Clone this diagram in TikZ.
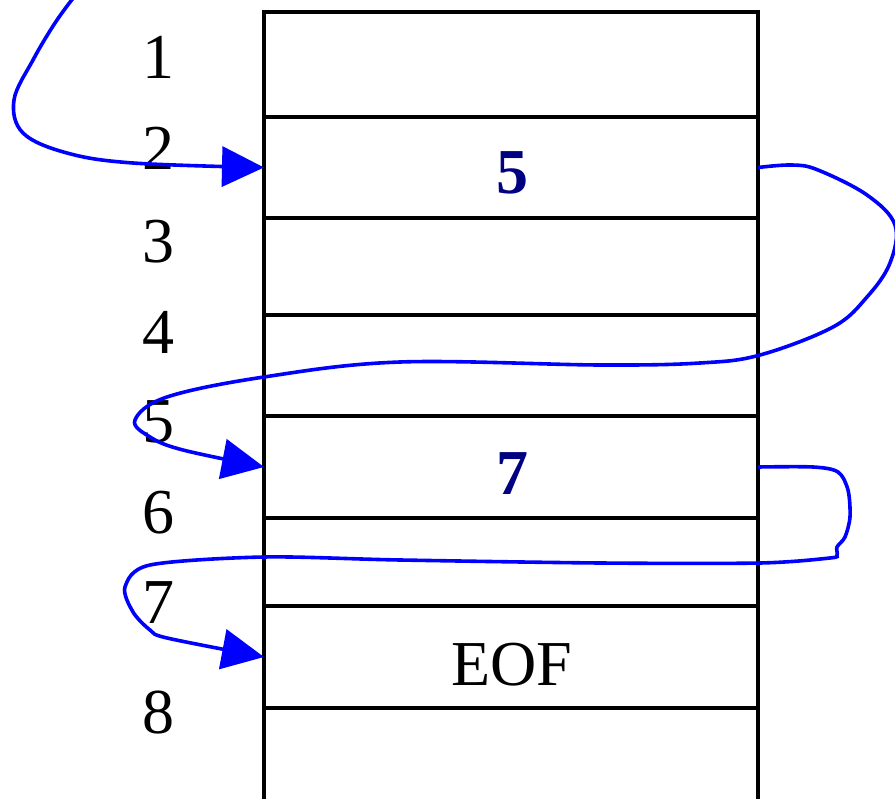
\documentclass[tikz,border=0pt]{standalone}
\usepackage{fontspec}
\setmainfont{Liberation Serif}
\usetikzlibrary{arrows.meta}
\definecolor{linkblue}{RGB}{0,0,255}
\definecolor{valnavy}{RGB}{0,0,128}
\begin{document}
\begin{tikzpicture}[x=1pt,y=-1pt,
  cell/.style={draw=black,line width=3.6pt,minimum width=494pt,inner sep=0pt,outer sep=0pt},
  idx/.style={font=\fontsize{64}{64}\selectfont,inner sep=0pt},
  val/.style={font=\fontsize{64}{64}\selectfont\bfseries,text=valnavy,inner sep=0pt},
  txt/.style={font=\fontsize{64}{64}\selectfont,inner sep=0pt},
  link/.style={draw=linkblue,line width=3.6pt,-{Triangle[length=42pt,width=40pt]},fill=none}]
\useasboundingbox (0,0) rectangle (895,799);
% record cells
\node[cell,minimum height=105pt] (c1) at (511,64.5) {};
\node[cell,minimum height=101pt] (c2) at (511,167.5) {};
\node[cell,minimum height=97pt]  (c3) at (511,266.5) {};
\node[cell,minimum height=101pt] (c4) at (511,365.5) {};
\node[cell,minimum height=102pt] (c5) at (511,467) {};
\node[cell,minimum height=88pt]  (c6) at (511,562) {};
\node[cell,minimum height=102pt] (c7) at (511,657) {};
\coordinate (bl) at (264,810);
\coordinate (br) at (758,810);
\draw[line width=3.6pt] (c7.south west) -- (bl) (c7.south east) -- (br);
% record numbers
\node[idx] (n1) at (158,57) {1};
\node[idx] (n2) at (158,148) {2};
\node[idx] (n3) at (158,242) {3};
\node[idx] (n4) at (158,332) {4};
\node[idx] (n5) at (158,422) {5};
\node[idx] (n6) at (158,513) {6};
\node[idx] (n7) at (158,603) {7};
\node[idx] (n8) at (158,713) {8};
% contents
\node[val] (v2) at (512,173) {5};
\node[val] (v5) at (512,474) {7};
\node[txt] (v7) at (512,665) {EOF};
% chain of links
\coordinate (top) at (74,-3);
\draw[link] plot[smooth,tension=0.6] coordinates {(top) (55,23) (33,60) (14,100) (23,133) (67,153) (133,163) (c2.west)};
\draw[link] plot[smooth,tension=0.6] coordinates {(c2.east) (792,165) (818,170) (867,195) (895,225) (890,263) (867,297) (833,327) (760,355) (700,363) (600,365) (400,362) (264,377) (167,397) (135,420) (150,437) (183,450) (c5.west)};
\draw[link] plot[smooth,tension=0.5] coordinates {(c5.east) (813,467) (838,472) (848,490) (850,517) (845,537) (837,547) (837,555) (830,558) (760,563) (600,563) (400,560) (264,557) (150,565) (125,587) (133,612) (150,630) (167,638) (c7.west)};
\end{tikzpicture}
\end{document}
